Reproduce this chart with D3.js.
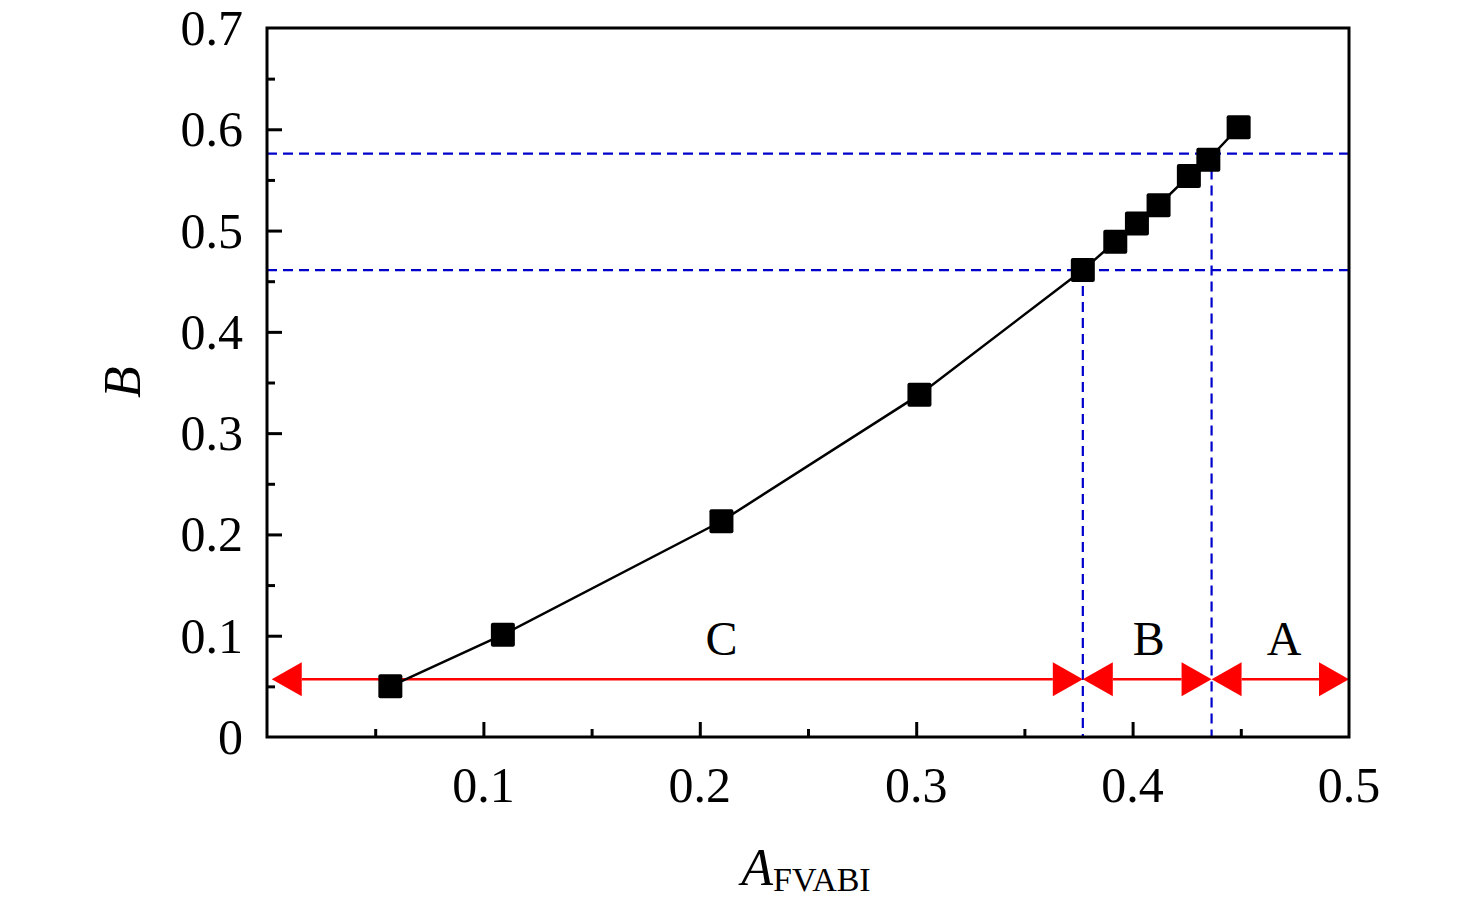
<!DOCTYPE html>
<html><head><meta charset="utf-8">
<script src="https://cdn.jsdelivr.net/npm/d3@7"></script>
<style>body{margin:0;background:#fff}text{font-family:"Liberation Serif","Times New Roman",serif}</style>
</head><body><svg width="1476" height="911"></svg>
<script>
var xs = [0.057, 0.109, 0.210, 0.3015, 0.377, 0.392, 0.402, 0.412, 0.426, 0.435, 0.449];
var ys = [0.050, 0.101, 0.213, 0.338, 0.461, 0.489, 0.507, 0.525, 0.554, 0.570, 0.602];
var xTicks = [0.1, 0.2, 0.3, 0.4, 0.5];
var yTicks = [0, 0.1, 0.2, 0.3, 0.4, 0.5, 0.6, 0.7];
var hLines = [0.461, 0.576];
var vLines = [[0.377, 0.461], [0.4365, 0.576]];
var regions = [["C", 0.0022, 0.377, 0.210], ["B", 0.377, 0.4365, 0.4075], ["A", 0.4365, 0.5, 0.470]];
var arrowY = 0.057, labelY = 0.098;

var svg = d3.select('svg');
var x = d3.scaleLinear().domain([0, 0.5]).range([267, 1349]);
var y = d3.scaleLinear().domain([0, 0.7]).range([737, 28]);

// dashed guides
svg.selectAll('.h').data(hLines).enter().append('line')
  .attr('x1', x(0)).attr('x2', x(0.5))
  .attr('y1', function(d){ return y(d); }).attr('y2', function(d){ return y(d); })
  .attr('stroke', '#0000cc').attr('stroke-width', 2.2).attr('stroke-dasharray', '10,6');
svg.selectAll('.v').data(vLines).enter().append('line')
  .attr('x1', function(d){ return x(d[0]); }).attr('x2', function(d){ return x(d[0]); })
  .attr('y1', function(d){ return y(d[1]); }).attr('y2', y(0))
  .attr('stroke', '#0000cc').attr('stroke-width', 2.2).attr('stroke-dasharray', '10,6');

// arrows
var ah = 30, aw = 17;
regions.forEach(function(r){
  var a = x(r[1]), b = x(r[2]), yy = y(arrowY);
  svg.append('line').attr('x1', a + ah).attr('x2', b - ah).attr('y1', yy).attr('y2', yy)
    .attr('stroke', '#ff0000').attr('stroke-width', 2.5);
  svg.append('path').attr('d', 'M' + a + ',' + yy + 'L' + (a + ah) + ',' + (yy - aw) + 'L' + (a + ah) + ',' + (yy + aw) + 'Z').attr('fill', '#ff0000');
  svg.append('path').attr('d', 'M' + b + ',' + yy + 'L' + (b - ah) + ',' + (yy - aw) + 'L' + (b - ah) + ',' + (yy + aw) + 'Z').attr('fill', '#ff0000');
  svg.append('text').attr('x', x(r[3])).attr('y', y(labelY) + 17)
    .attr('text-anchor', 'middle').attr('font-size', 48).text(r[0]);
});

// line + markers
var pts = xs.map(function(v, i){ return [v, ys[i]]; });
svg.append('path').datum(pts)
  .attr('d', d3.line().x(function(d){ return x(d[0]); }).y(function(d){ return y(d[1]); }))
  .attr('fill', 'none').attr('stroke', '#000').attr('stroke-width', 2.5);
svg.selectAll('rect.m').data(pts).enter().append('rect')
  .attr('x', function(d){ return x(d[0]) - 12; }).attr('y', function(d){ return y(d[1]) - 12; })
  .attr('width', 24).attr('height', 24).attr('rx', 2).attr('fill', '#000');

// frame
svg.append('rect').attr('x', x(0)).attr('y', y(0.7)).attr('width', x(0.5) - x(0)).attr('height', y(0) - y(0.7))
  .attr('fill', 'none').attr('stroke', '#000').attr('stroke-width', 3);

// axes
var xa = svg.append('g').attr('transform', 'translate(0,' + y(0) + ')');
xa.call(d3.axisBottom(x).tickValues(d3.range(0.05, 0.5, 0.05)).tickSize(-8).tickFormat(''));
xa.call(function(g){
  g.selectAll('.tick').filter(function(d){ return Math.abs(Math.round(d * 10) - d * 10) < 1e-6; })
    .select('line').attr('y2', -15);
});
xa.selectAll('.domain').remove();
xa.selectAll('line').attr('stroke-width', 3);
xTicks.forEach(function(t){
  svg.append('text').attr('x', x(t)).attr('y', 802).attr('text-anchor', 'middle').attr('font-size', 50).text(d3.format('.1f')(t));
});

var ya = svg.append('g').attr('transform', 'translate(' + x(0) + ',0)');
ya.call(d3.axisLeft(y).tickValues(d3.range(0.05, 0.7, 0.05)).tickSize(-8).tickFormat(''));
ya.call(function(g){
  g.selectAll('.tick').filter(function(d){ return Math.abs(Math.round(d * 10) - d * 10) < 1e-6; })
    .select('line').attr('x2', 15);
});
ya.selectAll('.domain').remove();
ya.selectAll('line').attr('stroke-width', 3);
yTicks.forEach(function(t){
  svg.append('text').attr('x', 243).attr('y', y(t) + 17).attr('text-anchor', 'end').attr('font-size', 50)
    .text(t == 0 ? '0' : d3.format('.1f')(t));
});

// labels
svg.append('text').attr('transform', 'translate(140,382) rotate(-90)').attr('text-anchor', 'middle')
  .attr('font-size', 52).attr('font-style', 'italic').text('B');
var xl = svg.append('text').attr('x', 806).attr('y', 885).attr('text-anchor', 'middle').attr('font-size', 52);
xl.append('tspan').attr('font-style', 'italic').text('A');
xl.append('tspan').attr('font-size', 34).attr('dy', 6).text('FVABI');
</script></body></html>
